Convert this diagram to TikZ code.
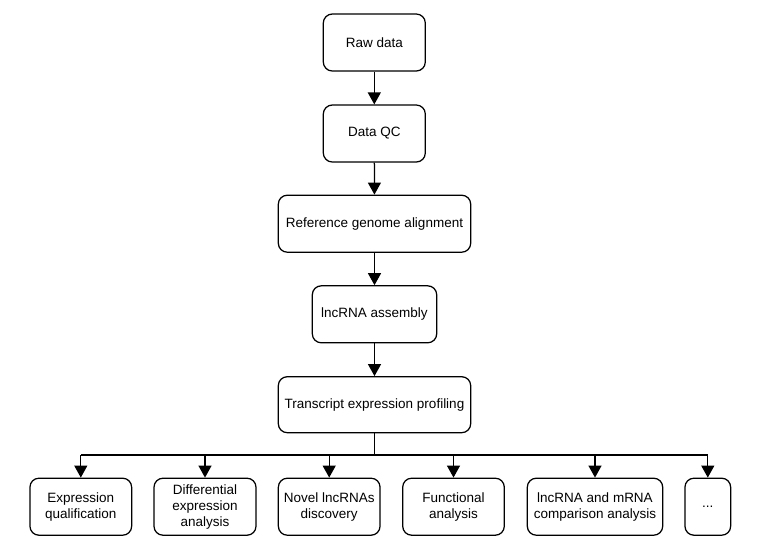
\documentclass[tikz,border=0pt]{standalone}
\usepackage{fontspec}
\setmainfont{Liberation Sans}
\usetikzlibrary{arrows.meta}
\begin{document}
\begin{tikzpicture}[x=1pt,y=-1pt,
  box/.style={draw=black,line width=1.25pt,rounded corners=9pt,fill=white,
    align=center,inner sep=0pt,minimum height=57pt,
    font=\fontsize{13.5}{15.8}\selectfont},
  conn/.style={line width=1.25pt,draw=black},
  arr/.style={conn,-{Triangle[length=12pt,width=13pt]}}]
\useasboundingbox (0,0) rectangle (767,542);
\node[box,minimum width=102pt] (raw) at (374.3,42.5) {Raw data};
\node[box,minimum width=102pt] (qc) at (374.3,133.5) {Data QC};
\node[box,minimum width=192.4pt] (ref) at (374.5,223.7) {Reference genome alignment};
\node[box,minimum width=124.4pt] (asm) at (374.5,314.3) {lncRNA assembly};
\node[box,minimum width=192.4pt,minimum height=56pt] (tep) at (374.5,404.7) {Transcript expression profiling};
\node[box,minimum width=101.7pt] (b1) at (80.8,506.7) {Expression\\qualification};
\node[box,minimum width=102pt] (b2) at (205,506.7) {Differential\\expression\\analysis};
\node[box,minimum width=101.7pt] (b3) at (329.2,506.7) {Novel lncRNAs\\discovery};
\node[box,minimum width=101.6pt] (b4) at (453.5,506.7) {Functional\\analysis};
\node[box,minimum width=135.4pt] (b5) at (595,506.7) {lncRNA and mRNA\\comparison analysis};
\node[box,minimum width=45.7pt] (b6) at (707.8,506.7) {...};
\coordinate (bus) at (374.5,455);
\draw[arr] (raw) -- (qc);
\draw[arr] (qc) -- (ref);
\draw[arr] (ref) -- (asm);
\draw[arr] (asm) -- (tep);
\draw[conn] (tep.south) -- (bus);
\draw[conn] (bus -| b1.north) -- (bus -| b6.north);
\foreach \b in {b1,b2,b3,b4,b5,b6} {
  \draw[arr] (bus -| \b.north) -- (\b.north);
}
\end{tikzpicture}
\end{document}
